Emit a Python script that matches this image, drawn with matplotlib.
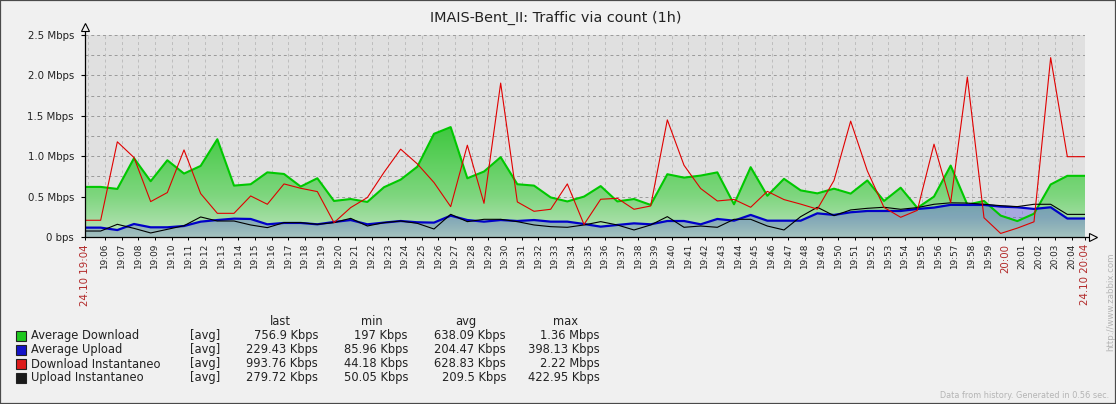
import numpy as np
import matplotlib
matplotlib.use("Agg")
import matplotlib.pyplot as plt
from matplotlib.path import Path
from matplotlib.patches import PathPatch, Rectangle
from matplotlib.ticker import FixedLocator, FixedFormatter

# ---------------- data (Mbps), one sample per minute ----------------
title = "IMAIS-Bent_II: Traffic via count (1h)"
start_min, end_min = 4.8, 64.8          # minutes after 19:00 (19:04:48 .. 20:04:48)
first_sample = 5.74                      # first sample at 19:05:44
n_samples = 59

avg_download = [0.62, 0.595, 0.975, 0.69, 0.95, 0.785, 0.88, 1.21, 0.636, 0.653,
                0.80, 0.78, 0.624, 0.727, 0.446, 0.47, 0.434, 0.616, 0.71, 0.87,
                1.277, 1.36, 0.727, 0.81, 0.988, 0.653, 0.636, 0.49, 0.44, 0.5,
                0.63, 0.44, 0.47, 0.397, 0.777, 0.735, 0.76, 0.80, 0.405, 0.864,
                0.51, 0.72, 0.577, 0.54, 0.598, 0.537, 0.70, 0.446, 0.61, 0.36,
                0.5, 0.884, 0.40, 0.446, 0.265, 0.197, 0.288, 0.65, 0.757]
avg_upload = [0.116, 0.086, 0.161, 0.12, 0.12, 0.136, 0.19, 0.21, 0.227, 0.223,
              0.157, 0.174, 0.174, 0.157, 0.186, 0.21, 0.157, 0.178, 0.198, 0.182,
              0.178, 0.264, 0.21, 0.19, 0.21, 0.198, 0.21, 0.19, 0.19, 0.161,
              0.128, 0.149, 0.169, 0.157, 0.198, 0.198, 0.157, 0.223, 0.202, 0.273,
              0.202, 0.202, 0.202, 0.293, 0.273, 0.306, 0.322, 0.322, 0.322, 0.347,
              0.364, 0.398, 0.397, 0.397, 0.376, 0.368, 0.347, 0.368, 0.229]
download_inst = [0.207, 1.178, 0.983, 0.438, 0.55, 1.078, 0.537, 0.293, 0.293, 0.508,
                 0.405, 0.657, 0.603, 0.562, 0.178, 0.364, 0.488, 0.80, 1.087, 0.905,
                 0.674, 0.376, 1.136, 0.417, 1.905, 0.434, 0.318, 0.343, 0.657, 0.155,
                 0.467, 0.479, 0.343, 0.384, 1.45, 0.888, 0.60, 0.446, 0.465, 0.368,
                 0.565, 0.463, 0.407, 0.345, 0.70, 1.434, 0.818, 0.366, 0.244, 0.33,
                 1.149, 0.426, 1.98, 0.238, 0.044, 0.11, 0.188, 2.22, 0.994]
upload_inst = [0.074, 0.157, 0.107, 0.05, 0.095, 0.14, 0.248, 0.198, 0.198, 0.149,
               0.116, 0.178, 0.178, 0.157, 0.178, 0.231, 0.136, 0.178, 0.198, 0.169,
               0.099, 0.281, 0.19, 0.219, 0.219, 0.19, 0.149, 0.128, 0.12, 0.149,
               0.19, 0.149, 0.087, 0.149, 0.252, 0.12, 0.136, 0.12, 0.219, 0.219,
               0.136, 0.087, 0.252, 0.368, 0.264, 0.335, 0.355, 0.368, 0.343, 0.364,
               0.405, 0.423, 0.42, 0.405, 0.388, 0.376, 0.405, 0.405, 0.28]

y_ticks = [0, 0.5, 1.0, 1.5, 2.0, 2.5]
y_labels = ["0 bps", "0.5 Mbps", "1.0 Mbps", "1.5 Mbps", "2.0 Mbps", "2.5 Mbps"]
minute_ticks = list(range(6, 65))
minute_labels = ["19:%02d" % m if m < 60 else "20:%02d" % (m - 60) for m in minute_ticks]
start_label, end_label = "24.10 19:04", "24.10 20:04"

legend_names = ["Average Download", "Average Upload", "Download Instantaneo", "Upload Instantaneo"]
legend_colors = ["#1ec81e", "#1414c8", "#dd1c1c", "#1a1a1a"]
legend_func = ["[avg]", "[avg]", "[avg]", "[avg]"]
legend_last = ["756.9 Kbps", "229.43 Kbps", "993.76 Kbps", "279.72 Kbps"]
legend_min = ["197 Kbps", "85.96 Kbps", "44.18 Kbps", "50.05 Kbps"]
legend_avg = ["638.09 Kbps", "204.47 Kbps", "628.83 Kbps", "209.5 Kbps"]
legend_max = ["1.36 Mbps", "398.13 Kbps", "2.22 Mbps", "422.95 Kbps"]

# ---------------- figure ----------------
W, H = 1116, 404
fig = plt.figure(figsize=(W / 100, H / 100), dpi=100, facecolor="#f0f0f0")
ax = fig.add_axes([85 / W, (H - 237) / H, 1000 / W, 202 / H])
ax.set_facecolor("#e0e0e0")

t = first_sample + np.arange(n_samples)


def ext(vals):
    v = np.asarray(vals, float)
    return np.r_[start_min, t, end_min], np.r_[v[0], v, v[-1]]


def gradient_area(xs, ys, ystops, rgba_stops, z):
    verts = np.vstack([np.column_stack([xs, ys]),
                       np.column_stack([xs[::-1], np.zeros(len(xs))])])
    patch = PathPatch(Path(verts), facecolor="none", edgecolor="none")
    ax.add_patch(patch)
    yy = np.linspace(0, 2.5, 400)
    cols = np.asarray(rgba_stops, float)
    img = np.stack([np.interp(yy, ystops, cols[:, c]) for c in range(4)], axis=-1)[:, None, :]
    im = ax.imshow(img, extent=(start_min, end_min, 0, 2.5), origin="lower",
                   aspect="auto", interpolation="bilinear", zorder=z)
    im.set_clip_path(patch)


# grid
for v in np.arange(0.25, 2.51, 0.25):
    ax.axhline(v, color="#9a9a9a", lw=0.7, dashes=(3, 3), zorder=0.5)
for m in range(5, 65):
    ax.axvline(m, color="#bdbdbd", lw=0.7, dashes=(3, 3), zorder=0.5)
ax.axvline(end_min, color="#bdbdbd", lw=0.7, dashes=(3, 3), zorder=0.5)

xg, yg = ext(avg_download)
xb, yb = ext(avg_upload)
xr, yr = ext(download_inst)
xk, yk = ext(upload_inst)

gradient_area(xg, yg, [0, 0.5, 1.0, 1.4, 2.5],
              [[0.74, 0.89, 0.74, 1], [0.50, 0.84, 0.50, 1], [0.35, 0.81, 0.35, 1],
               [0.24, 0.78, 0.24, 1], [0.16, 0.75, 0.16, 1]], 1)
gradient_area(xb, yb, [0, 0.25, 2.5],
              [[0.30, 0.30, 0.80, 0.22], [0.33, 0.33, 0.88, 0.40], [0.33, 0.33, 0.88, 0.40]], 2)

ax.plot(xg, yg, color="#00c800", lw=1.5, zorder=3)
ax.plot(xb, yb, color="#0000c8", lw=1.6, zorder=4)
ax.plot(xk, yk, color="#000000", lw=0.8, zorder=5)
ax.plot(xr, yr, color="#e00000", lw=0.8, zorder=6)

ax.set_xlim(start_min, end_min)
ax.set_ylim(0, 2.5)

# axes lines with arrows
for s in ax.spines.values():
    s.set_visible(False)
ax.plot([0, 0], [0, 1 + 6 / 202], transform=ax.transAxes, clip_on=False, color="k", lw=0.9, zorder=10)
ax.plot([0, 1 + 6 / 1000], [0, 0], transform=ax.transAxes, clip_on=False, color="k", lw=0.9, zorder=10)
ax.plot([0], [1 + 8 / 202], marker="^", ms=6, mfc="#f0f0f0", mec="k", mew=0.8,
        transform=ax.transAxes, clip_on=False, zorder=10)
ax.plot([1 + 8 / 1000], [0], marker=">", ms=6, mfc="#f0f0f0", mec="k", mew=0.8,
        transform=ax.transAxes, clip_on=False, zorder=10)

# y ticks
ax.yaxis.set_major_locator(FixedLocator(y_ticks))
ax.yaxis.set_major_formatter(FixedFormatter(y_labels))
ax.tick_params(axis="y", length=3, width=0.8, pad=5, labelsize=7.4, labelcolor="#222222")

# x ticks
xt = [start_min] + minute_ticks + [end_min]
xl = [start_label] + minute_labels + [end_label]
ax.xaxis.set_major_locator(FixedLocator(xt))
ax.xaxis.set_major_formatter(FixedFormatter(xl))
ax.tick_params(axis="x", length=2, width=0.7, pad=3, labelsize=6.4, labelcolor="#222222",
               labelrotation=90)
for lab, txt in zip(ax.get_xticklabels(), xl):
    if txt in (start_label, end_label, "20:00"):
        lab.set_color("#b22a2a")
        lab.set_fontsize(7.4)


def fx(x):
    return x / W


def fy(y):
    return 1 - y / H


fig.text(fx(556), fy(18), title, ha="center", va="center", fontsize=10.4, color="#222222")

# legend (baseline aligned)
hdr_base = 325
for xh, name in zip([280, 372, 466, 565], ["last", "min", "avg", "max"]):
    fig.text(fx(xh), fy(hdr_base), name, ha="center", va="baseline", fontsize=8.3, color="#222222")
for i in range(len(legend_names)):
    ry = 335.5 + 14 * i
    base = ry + 4
    fig.add_artist(Rectangle((fx(16), fy(ry + 5)), 10 / W, 10 / H, transform=fig.transFigure,
                             facecolor=legend_colors[i], edgecolor="#222222", lw=0.8))
    fig.text(fx(31), fy(base), legend_names[i], ha="left", va="baseline", fontsize=8.3, color="#222222")
    fig.text(fx(190), fy(base), legend_func[i], ha="left", va="baseline", fontsize=8.3, color="#222222")
    fig.text(fx(318), fy(base), legend_last[i], ha="right", va="baseline", fontsize=8.3, color="#222222")
    fig.text(fx(408), fy(base), legend_min[i], ha="right", va="baseline", fontsize=8.3, color="#222222")
    fig.text(fx(506), fy(base), legend_avg[i], ha="right", va="baseline", fontsize=8.3, color="#222222")
    fig.text(fx(600), fy(base), legend_max[i], ha="right", va="baseline", fontsize=8.3, color="#222222")

fig.text(fx(1111), fy(302), "http://www.zabbix.com", rotation=90, ha="center", va="center",
         fontsize=6.2, color="#b4b4b4")
fig.text(fx(1109), fy(396), "Data from history. Generated in 0.56 sec.", ha="right", va="center",
         fontsize=5.9, color="#b4b4b4")

fig.add_artist(Rectangle((0, 0), 1, 1, transform=fig.transFigure, fill=False,
                         edgecolor="#4a4a4a", lw=1.6))

fig.savefig("out.png", dpi=100, facecolor=fig.get_facecolor())
